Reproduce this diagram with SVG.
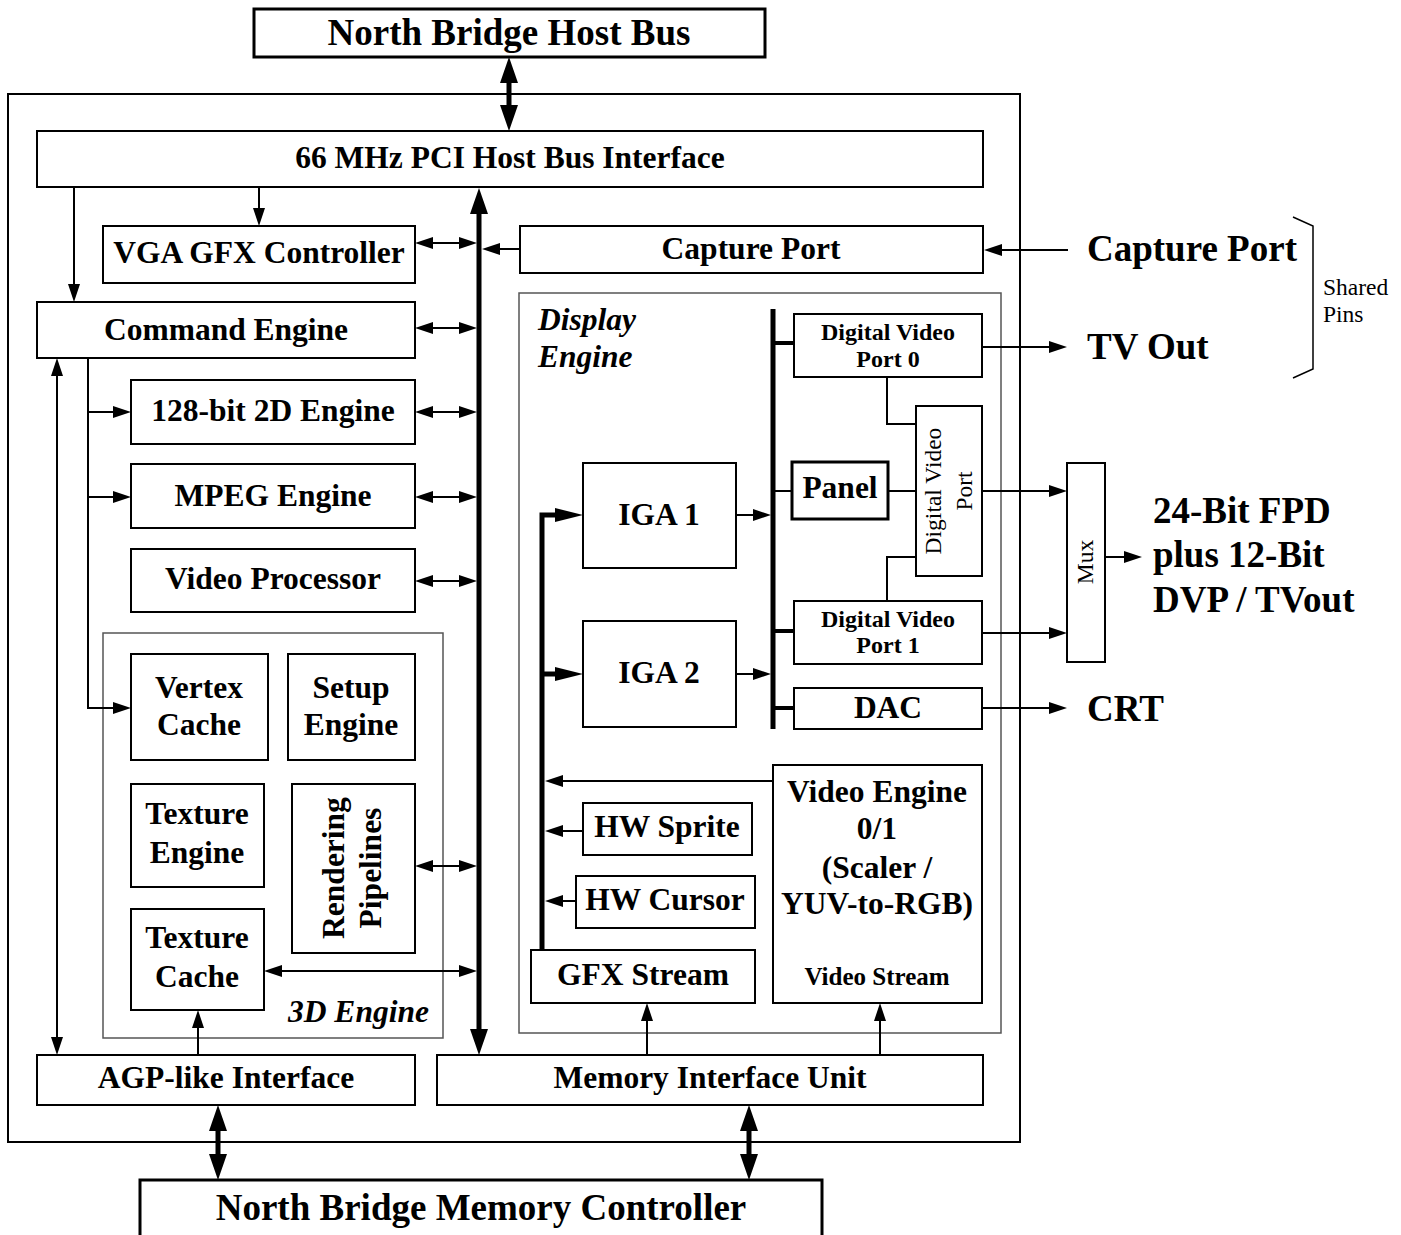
<svg xmlns="http://www.w3.org/2000/svg" width="1401" height="1235" viewBox="0 0 1401 1235">
<style>
.bx{fill:#fff;stroke:#000;stroke-width:2}
.gr{fill:none;stroke:#555;stroke-width:1.5}
.tk{fill:#fff;stroke:#000;stroke-width:3}
.t{font-family:"Liberation Serif","Times New Roman",serif;font-weight:bold;font-size:31.5px;fill:#000;text-anchor:middle}
.s{font-size:24px}
.vs{font-size:25px}
.xl{font-size:37px;text-anchor:start}
.nb{font-size:37px}
.it{font-style:italic;text-anchor:start}
.n{font-family:"Liberation Serif","Times New Roman",serif;font-size:23.5px;fill:#000;text-anchor:middle}
.c{fill:none;stroke:#000;stroke-width:2}
.c5{fill:none;stroke:#000;stroke-width:5}
.c4{fill:none;stroke:#000;stroke-width:4}
.ar{marker-end:url(#t)}
.da{marker-start:url(#t);marker-end:url(#t)}
</style>
<defs>
<marker id="t" markerUnits="userSpaceOnUse" markerWidth="18" markerHeight="12" refX="0" refY="6" orient="auto-start-reverse"><path d="M0,0 L18,6 L0,12 z" fill="#000"/></marker>
<marker id="b" markerUnits="userSpaceOnUse" markerWidth="26" markerHeight="18" refX="0" refY="9" orient="auto-start-reverse"><path d="M0,0 L26,9 L0,18 z" fill="#000"/></marker>
<marker id="m" markerUnits="userSpaceOnUse" markerWidth="28" markerHeight="14" refX="0" refY="7" orient="auto-start-reverse"><path d="M0,0 L28,7 L0,14 z" fill="#000"/></marker>
</defs>
<rect x="8" y="94" width="1012" height="1048" fill="none" stroke="#000" stroke-width="2"/>
<g id="nb-host"><rect class="tk" x="254" y="9" width="511" height="48"/><text class="t nb" x="509" y="45">North Bridge Host Bus</text></g>
<g id="pci"><rect class="bx" x="37" y="131" width="946" height="56"/><text class="t" x="510" y="168">66 MHz PCI Host Bus Interface</text></g>
<g id="vga"><rect class="bx" x="103" y="226" width="312" height="57"/><text class="t" x="259" y="263">VGA GFX Controller</text></g>
<g id="capture"><rect class="bx" x="520" y="226" width="463" height="47"/><text class="t" x="751" y="259">Capture Port</text></g>
<g id="display-engine"><rect class="gr" x="519" y="293" width="482" height="740"/><text class="t it" x="538" y="330">Display</text><text class="t it" x="538" y="367">Engine</text></g>
<g id="command"><rect class="bx" x="37" y="302" width="378" height="56"/><text class="t" x="226" y="340">Command Engine</text></g>
<g id="eng2d"><rect class="bx" x="131" y="380" width="284" height="64"/><text class="t" x="273" y="421">128-bit 2D Engine</text></g>
<g id="mpeg"><rect class="bx" x="131" y="464" width="284" height="64"/><text class="t" x="273" y="506">MPEG Engine</text></g>
<g id="vproc"><rect class="bx" x="131" y="549" width="284" height="63"/><text class="t" x="273" y="589">Video Processor</text></g>
<g id="eng3d"><rect class="gr" x="103" y="633" width="340" height="405"/><text class="t it" x="288" y="1022">3D Engine</text></g>
<g id="vertex"><rect class="bx" x="131" y="654" width="137" height="106"/><text class="t" x="199" y="698">Vertex</text><text class="t" x="199" y="735">Cache</text></g>
<g id="setup"><rect class="bx" x="288" y="654" width="127" height="106"/><text class="t" x="351" y="698">Setup</text><text class="t" x="351" y="735">Engine</text></g>
<g id="texeng"><rect class="bx" x="131" y="784" width="133" height="103"/><text class="t" x="197" y="824">Texture</text><text class="t" x="197" y="863">Engine</text></g>
<g id="render"><rect class="bx" x="292" y="784" width="123" height="169"/><text class="t" transform="translate(344,868) rotate(-90)">Rendering</text><text class="t" transform="translate(381,868) rotate(-90)">Pipelines</text></g>
<g id="texcache"><rect class="bx" x="131" y="909" width="133" height="101"/><text class="t" x="197" y="948">Texture</text><text class="t" x="197" y="987">Cache</text></g>
<g id="agp"><rect class="bx" x="37" y="1055" width="378" height="50"/><text class="t" x="226" y="1088">AGP-like Interface</text></g>
<g id="miu"><rect class="bx" x="437" y="1055" width="546" height="50"/><text class="t" x="710" y="1088">Memory Interface Unit</text></g>
<g id="nb-mem"><rect class="tk" x="140" y="1180" width="682" height="70"/><text class="t nb" x="481" y="1220">North Bridge Memory Controller</text></g>
<g id="dvp0"><rect class="bx" x="794" y="314" width="188" height="63"/><text class="t s" x="888" y="340">Digital Video</text><text class="t s" x="888" y="367">Port 0</text></g>
<g id="dvp"><rect class="bx" x="916" y="406" width="66" height="170"/><text class="n" transform="translate(941,491) rotate(-90)">Digital Video</text><text class="n" transform="translate(972,491) rotate(-90)">Port</text></g>
<g id="panel"><rect class="tk" x="792" y="462" width="96" height="57"/><text class="t" x="840" y="498">Panel</text></g>
<g id="iga1"><rect class="bx" x="583" y="463" width="153" height="105"/><text class="t" x="659" y="525">IGA 1</text></g>
<g id="iga2"><rect class="bx" x="583" y="621" width="153" height="106"/><text class="t" x="659" y="683">IGA 2</text></g>
<g id="dvp1"><rect class="bx" x="794" y="601" width="188" height="63"/><text class="t s" x="888" y="627">Digital Video</text><text class="t s" x="888" y="653">Port 1</text></g>
<g id="dac"><rect class="bx" x="794" y="688" width="188" height="41"/><text class="t" x="888" y="718">DAC</text></g>
<g id="video-engine"><rect class="bx" x="773" y="765" width="209" height="238"/><text class="t" x="877" y="802">Video Engine</text><text class="t" x="877" y="839">0/1</text><text class="t" x="877" y="878">(Scaler /</text><text class="t" x="877" y="914">YUV-to-RGB)</text><text class="t vs" x="877" y="985">Video Stream</text></g>
<g id="hw-sprite"><rect class="bx" x="583" y="803" width="169" height="52"/><text class="t" x="667" y="837">HW Sprite</text></g>
<g id="hw-cursor"><rect class="bx" x="576" y="876" width="179" height="52"/><text class="t" x="665" y="910">HW Cursor</text></g>
<g id="gfx-stream"><rect class="bx" x="531" y="950" width="224" height="53"/><text class="t" x="643" y="985">GFX Stream</text></g>
<g id="mux"><rect class="bx" x="1067" y="463" width="38" height="199"/><text class="n" transform="translate(1093,562) rotate(-90)">Mux</text></g>
<g id="ext-capture"><text class="t xl" x="1087" y="261">Capture Port</text></g>
<g id="ext-tv"><text class="t xl" x="1087" y="359">TV Out</text></g>
<g id="ext-fpd"><text class="t xl" x="1153" y="523">24-Bit FPD</text><text class="t xl" x="1153" y="567">plus 12-Bit</text><text class="t xl" x="1153" y="612">DVP / TVout</text></g>
<g id="ext-crt"><text class="t xl" x="1087" y="721">CRT</text></g>
<g id="shared"><path d="M1293,217 L1313,226 L1313,369 L1293,378" fill="none" stroke="#000" stroke-width="1.5"/><text class="n" x="1323" y="295" style="text-anchor:start">Shared</text><text class="n" x="1323" y="322" style="text-anchor:start">Pins</text></g>
<g id="connectors">
<path class="c5" d="M509,83 V105" marker-start="url(#b)" marker-end="url(#b)"/>
<path class="c5" d="M479,214 V1029" marker-start="url(#b)" marker-end="url(#b)"/>
<path class="c ar" d="M74,187 V284"/>
<path class="c ar" d="M259,187 V208"/>
<path class="c da" d="M433,243 H459"/>
<path class="c ar" d="M520,249 H500"/>
<path class="c da" d="M433,328 H459"/>
<path class="c da" d="M433,412 H459"/>
<path class="c da" d="M433,497 H459"/>
<path class="c da" d="M433,581 H459"/>
<path class="c da" d="M433,866 H459"/>
<path class="c da" d="M282,971 H459"/>
<path class="c ar" d="M88,358 V708 H113"/>
<path class="c ar" d="M88,412 H113"/>
<path class="c ar" d="M88,497 H113"/>
<path class="c da" d="M57,376 V1037"/>
<path class="c ar" d="M198,1055 V1028"/>
<path class="c5" d="M218,1131 V1154" marker-start="url(#b)" marker-end="url(#b)"/>
<path class="c5" d="M749,1131 V1154" marker-start="url(#b)" marker-end="url(#b)"/>
<path class="c ar" d="M647,1055 V1021"/>
<path class="c ar" d="M880,1055 V1021"/>
<path class="c5" d="M773,309 V729"/>
<path class="c4" d="M773,343 H794"/>
<path class="c4" d="M773,631 H794"/>
<path class="c4" d="M773,708 H794"/>
<path class="c" d="M773,491 H792"/>
<path class="c" d="M888,491 H916"/>
<path class="c" d="M887,377 V424 H916"/>
<path class="c" d="M916,557 H887 V601"/>
<path class="c ar" d="M736,515 H753"/>
<path class="c ar" d="M736,674 H753"/>
<path class="c5" d="M542,950 V515 H555" marker-end="url(#m)"/>
<path class="c5" d="M542,674 H555" marker-end="url(#m)"/>
<path class="c ar" d="M773,781 H563"/>
<path class="c ar" d="M583,831 H563"/>
<path class="c ar" d="M576,901 H563"/>
<path class="c ar" d="M1068,250 H1002"/>
<path class="c ar" d="M982,347 H1049"/>
<path class="c ar" d="M982,491 H1049"/>
<path class="c ar" d="M982,633 H1049"/>
<path class="c ar" d="M982,708 H1049"/>
<path class="c ar" d="M1105,557 H1124"/>
</g>
</svg>
